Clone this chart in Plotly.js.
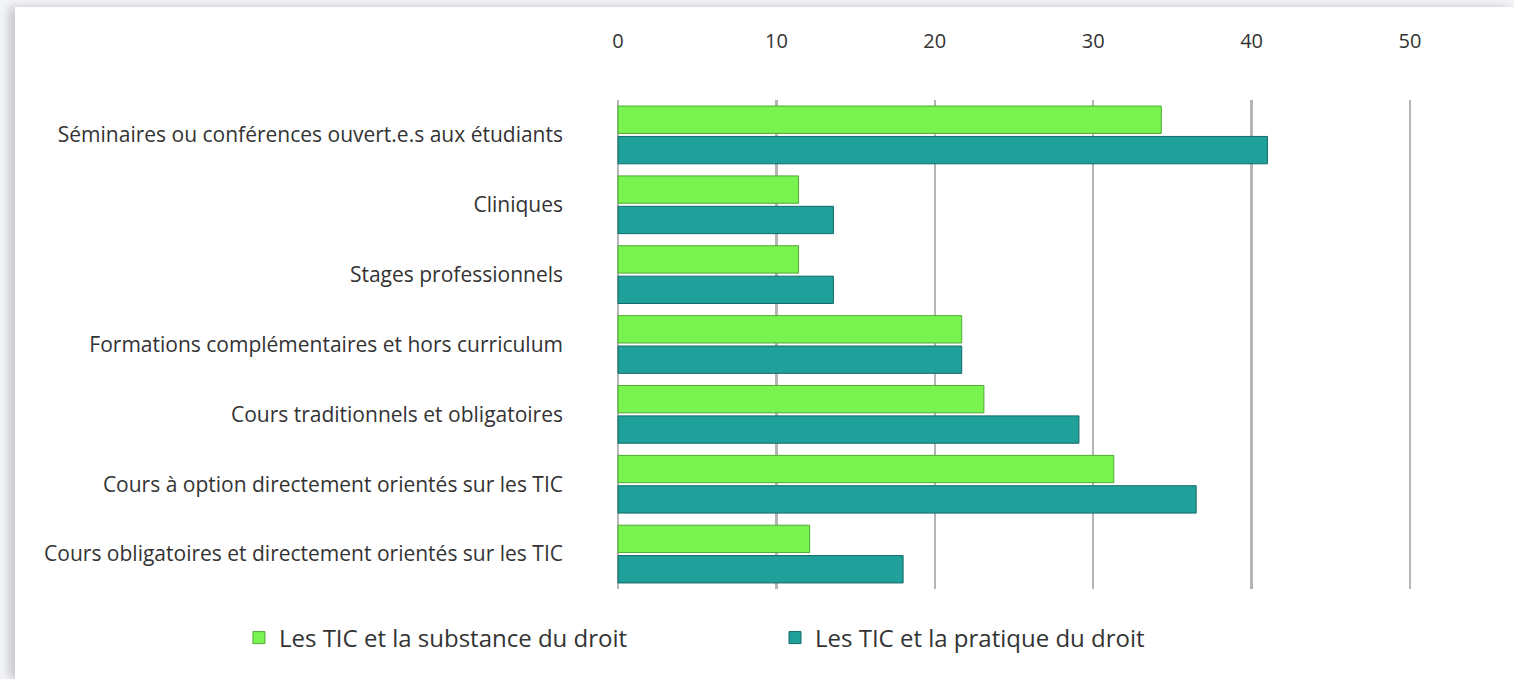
<!DOCTYPE html>
<html>
<head>
<meta charset="utf-8">
<script src="https://cdn.plot.ly/plotly-3.0.1.min.js"></script>
<style>
  html, body { margin:0; padding:0; background:#f3f4f8; width:1514px; height:679px; overflow:hidden; }
  #card { position:absolute; left:15px; top:7px; width:1499px; height:672px; background:#ffffff;
          box-shadow:-6px 0 9px rgba(0,0,0,0.18); }
  #chart { width:1499px; height:672px; }
</style>
</head>
<body>
<div id="card"><div id="chart"></div></div>
<script>
const categories = [
  "Séminaires ou conférences ouvert.e.s aux étudiants",
  "Cliniques",
  "Stages professionnels",
  "Formations complémentaires et hors curriculum",
  "Cours traditionnels et obligatoires",
  "Cours à option directement orientés sur les TIC",
  "Cours obligatoires et directement orientés sur les TIC"
];
const seriesNames = ["Les TIC et la substance du droit", "Les TIC et la pratique du droit"];
const substance = [34.3, 11.4, 11.4, 21.7, 23.1, 31.3, 12.1];
const pratique  = [41.0, 13.6, 13.6, 21.7, 29.1, 36.5, 18.0];
const tickVals = [0, 10, 20, 30, 40, 50];
const tickText = ["0", "10", "20", "30", "40", "50"];

const FONT = "'Open Sans', Lato, sans-serif";

const traces = [
  { type:'bar', orientation:'h', name:seriesNames[0], x:substance, y:categories, legend:'legend',
    marker:{ color:'#79f34f', line:{ color:'#4fa834', width:1 } }, hoverinfo:'x+name' },
  { type:'bar', orientation:'h', name:seriesNames[1], x:pratique, y:categories, legend:'legend2',
    marker:{ color:'#20a09a', line:{ color:'#126a66', width:1 } }, hoverinfo:'x+name' }
];

const legendCommon = {
  orientation:'h', xref:'container', yref:'container', y:0.061,
  xanchor:'left', yanchor:'middle',
  font:{ size:24, color:'#333333', family:FONT }, bgcolor:'rgba(0,0,0,0)'
};

const layout = {
  width:1499, height:672,
  paper_bgcolor:'rgba(0,0,0,0)', plot_bgcolor:'rgba(0,0,0,0)',
  margin:{ l:585, r:64, t:92.5, b:89.5 },
  barmode:'group', bargap:0.13, bargroupgap:0.1,
  font:{ family:FONT, color:'#333333' },
  xaxis:{
    side:'top', range:[-1.136, 52.525], tickvals:tickVals, ticktext:tickText,
    showgrid:true, gridcolor:'#b5b5b5', gridwidth:2.5, zeroline:false, showline:false,
    ticks:'', ticklabelstandoff:47, tickfont:{ size:20, color:'#333333', family:FONT }
  },
  yaxis:{
    type:'category', categoryorder:'array', categoryarray:categories, autorange:'reversed',
    showgrid:false, zeroline:false, showline:false, ticks:'', ticklabelstandoff:36,
    tickfont:{ size:21, color:'#333333', family:FONT }
  },
  showlegend:true,
  legend:Object.assign({}, legendCommon, { x:0.1494 }),
  legend2:Object.assign({}, legendCommon, { x:0.5070 })
};

Plotly.newPlot('chart', traces, layout, { displayModeBar:false, staticPlot:true });
</script>
</body>
</html>
